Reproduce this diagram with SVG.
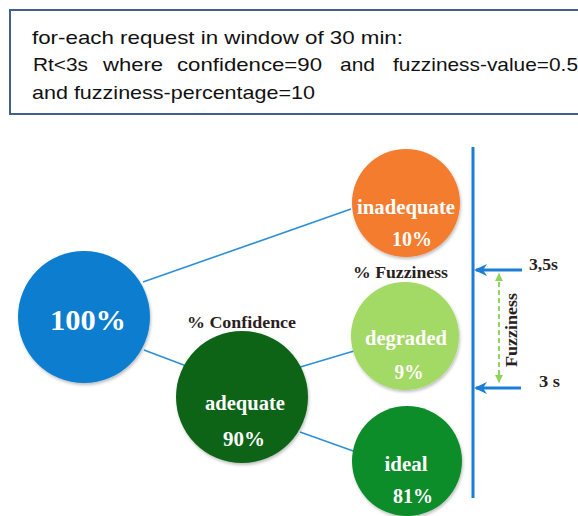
<svg xmlns="http://www.w3.org/2000/svg" width="578" height="516" viewBox="0 0 578 516">
<style>
.box{fill:#fff;stroke:#41618c;stroke-width:2}
.top{font-family:"Liberation Sans",Arial,sans-serif;font-size:19px;fill:#111}
.w{font-family:"Liberation Serif","Times New Roman",serif;font-weight:bold;fill:#fff;font-size:20px}
.big{font-size:30px}
.lbl{font-family:"Liberation Serif","Times New Roman",serif;font-weight:bold;fill:#2a1e1e;font-size:16px}
.conn{stroke:#2e8fd9;stroke-width:1.6;fill:none}
.axis{stroke:#1a7fd4;stroke-width:3;fill:none}
.fz{stroke:#8fd35a;stroke-width:2;stroke-dasharray:5 3;fill:none}
</style>
<defs>
<marker id="ab" markerWidth="13" markerHeight="12" refX="11" refY="6" orient="auto" markerUnits="userSpaceOnUse" viewBox="0 0 13 12">
<path d="M0,0 L13,6 L0,12 L4,6 Z" fill="#1a7fd4"/>
</marker>
<marker id="ag" markerWidth="8" markerHeight="8" refX="7" refY="4" orient="auto-start-reverse" markerUnits="userSpaceOnUse" viewBox="0 0 8 8">
<path d="M0,0 L8,4 L0,8 Z" fill="#8fd35a"/>
</marker>
<filter id="sh" x="-20%" y="-20%" width="140%" height="140%">
<feDropShadow dx="1" dy="2" stdDeviation="1.5" flood-color="#000" flood-opacity="0.25"/>
</filter>
</defs>

<g id="condition-box">
<rect class="box" x="10" y="10" width="580" height="104"/>
<text class="top" x="32" y="44" textLength="371" lengthAdjust="spacingAndGlyphs">for-each request in window of 30 min:</text>
<text class="top" x="33" y="71" textLength="55" lengthAdjust="spacingAndGlyphs">Rt&lt;3s</text>
<text class="top" x="103" y="71" textLength="60" lengthAdjust="spacingAndGlyphs">where</text>
<text class="top" x="177" y="71" textLength="145" lengthAdjust="spacingAndGlyphs">confidence=90</text>
<text class="top" x="340" y="71" textLength="35" lengthAdjust="spacingAndGlyphs">and</text>
<text class="top" x="393" y="71" textLength="185" lengthAdjust="spacingAndGlyphs">fuzziness-value=0.5</text>
<text class="top" x="32" y="99" textLength="283" lengthAdjust="spacingAndGlyphs">and fuzziness-percentage=10</text>
</g>

<g id="connectors">
<line class="conn" x1="143" y1="282" x2="351" y2="209"/>
<line class="conn" x1="144" y1="350" x2="189" y2="367"/>
<line class="conn" x1="297" y1="368" x2="354" y2="351"/>
<line class="conn" x1="300" y1="432" x2="356" y2="452"/>
<line class="axis" x1="473" y1="147" x2="473" y2="498"/>
<line class="axis" x1="522" y1="270" x2="476" y2="270" marker-end="url(#ab)"/>
<line class="axis" x1="521" y1="388" x2="476" y2="388" marker-end="url(#ab)"/>
<line class="fz" x1="499" y1="274" x2="499" y2="382" marker-start="url(#ag)" marker-end="url(#ag)"/>
</g>

<g id="node-total">
<circle cx="84" cy="317" r="66" fill="#0a7dcf" filter="url(#sh)"/>
<text class="w big" x="88" y="330" text-anchor="middle" textLength="76" lengthAdjust="spacingAndGlyphs">100%</text>
</g>

<g id="node-adequate">
<circle cx="242" cy="397" r="66" fill="#0b6419" filter="url(#sh)"/>
<text class="w" x="245" y="410" text-anchor="middle" textLength="80" lengthAdjust="spacingAndGlyphs">adequate</text>
<text class="w" x="244" y="446" text-anchor="middle" textLength="42" lengthAdjust="spacingAndGlyphs">90%</text>
</g>

<g id="node-inadequate">
<circle cx="406" cy="203" r="54" fill="#f47b2f" filter="url(#sh)"/>
<text class="w" x="406" y="214" text-anchor="middle" textLength="98" lengthAdjust="spacingAndGlyphs">inadequate</text>
<text class="w" x="412" y="246" text-anchor="middle" textLength="40" lengthAdjust="spacingAndGlyphs">10%</text>
</g>

<g id="node-degraded">
<circle cx="405" cy="336" r="54" fill="#a3d965" filter="url(#sh)"/>
<text class="w" x="406" y="345" text-anchor="middle" textLength="82" lengthAdjust="spacingAndGlyphs">degraded</text>
<text class="w" x="409" y="379" text-anchor="middle" textLength="29" lengthAdjust="spacingAndGlyphs">9%</text>
</g>

<g id="node-ideal">
<circle cx="407" cy="461" r="55" fill="#0e8c2b" filter="url(#sh)"/>
<text class="w" x="406" y="471" text-anchor="middle" textLength="43" lengthAdjust="spacingAndGlyphs">ideal</text>
<text class="w" x="413" y="503" text-anchor="middle" textLength="40" lengthAdjust="spacingAndGlyphs">81%</text>
</g>

<g id="labels">
<text class="lbl" x="187" y="328" textLength="109" lengthAdjust="spacingAndGlyphs">% Confidence</text>
<text class="lbl" x="353" y="278" textLength="95" lengthAdjust="spacingAndGlyphs">% Fuzziness</text>
<text class="lbl" x="529" y="270" textLength="29" lengthAdjust="spacingAndGlyphs">3,5s</text>
<text class="lbl" x="539" y="387" textLength="21" lengthAdjust="spacingAndGlyphs">3 s</text>
<text class="lbl" x="0" y="0" text-anchor="middle" textLength="74" lengthAdjust="spacingAndGlyphs" transform="translate(517 330) rotate(-90)">Fuzziness</text>
</g>
</svg>
